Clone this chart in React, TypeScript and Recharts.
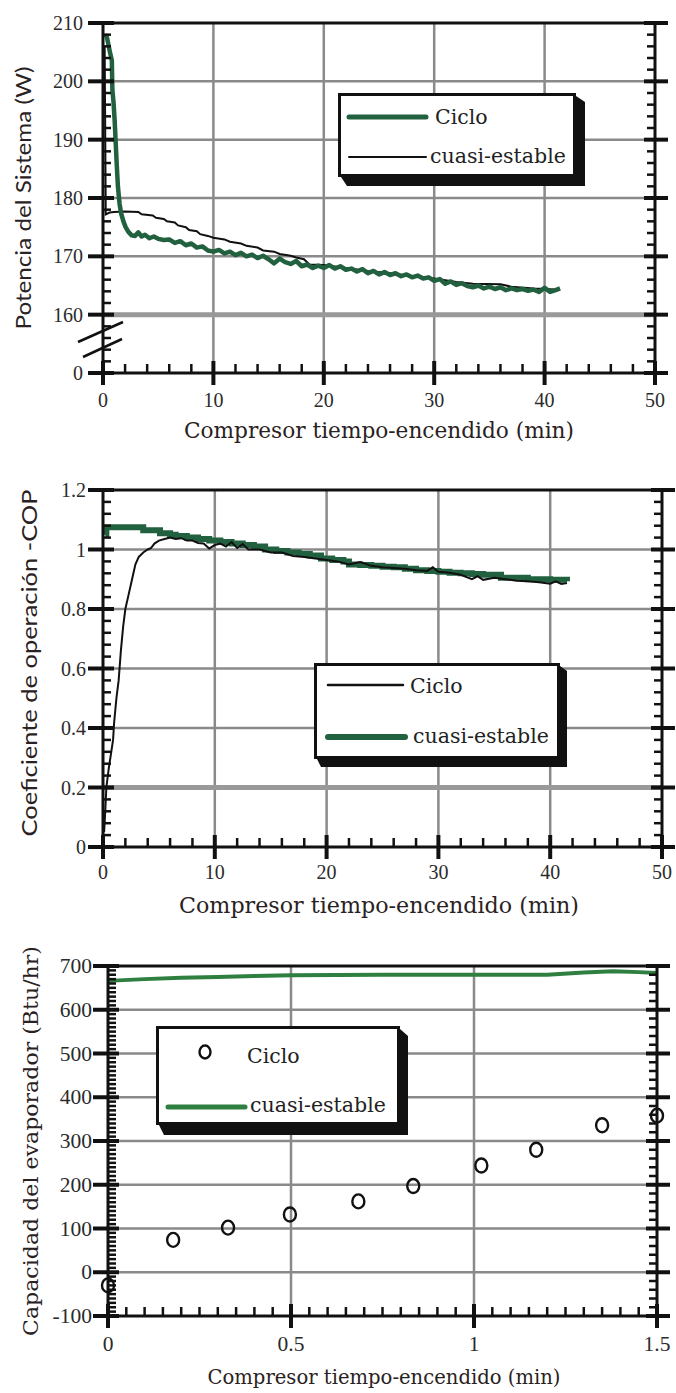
import React from 'react';
import { ComposedChart, Line, Scatter, XAxis, YAxis, ReferenceLine, Legend } from 'recharts';

// Panel 1: system power (W) vs compressor on-time (min)
const powerCiclo: [number, number][] = [
    [0.2, 208], [0.35, 207.6], [0.5, 206.2], [0.65, 204.8], [0.8, 203.6], [0.85, 198.5], [0.95, 196.5],
    [1.05, 193.5], [1.15, 189.5], [1.25, 185.5], [1.35, 182], [1.5, 179], [1.65, 177.3], [1.85, 176],
    [2.05, 175], [2.3, 174.2], [2.6, 173.6], [2.9, 173.5], [3.2, 174.1], [3.5, 173.4], [3.8, 173.7],
    [4.2, 173.1], [4.6, 173.4], [5, 173], [5.5, 172.8], [6, 172.9], [6.5, 172.3], [7, 172.6], [7.5, 171.9],
    [8, 172.2], [8.5, 171.5], [9, 171.7], [9.5, 171], [10, 170.8], [10.5, 171.1], [11, 170.5], [11.5, 170.8],
    [12, 170.2], [12.5, 170.6], [13, 170], [13.5, 170.3], [14, 169.7], [14.5, 170.1], [15, 169.5], [15.5, 168.8],
    [16, 169.6], [16.5, 169], [17, 168.7], [17.5, 169.2], [18, 168.3], [18.5, 168.6], [19, 168], [19.5, 168.4],
    [20, 168], [20.5, 168.5], [21, 167.9], [21.5, 168.3], [22, 167.7], [22.5, 167.9], [23, 167.4], [23.5, 167.8],
    [24, 167.1], [24.5, 167.5], [25, 166.9], [25.5, 167.3], [26, 166.8], [26.5, 167.1], [27, 166.6], [27.5, 166.9],
    [28, 166.4], [28.5, 166.7], [29, 166.2], [29.5, 166.4], [30, 165.8], [30.5, 166.1], [31, 165.3], [31.5, 165.7],
    [32, 165.1], [32.5, 165.4], [33, 164.9], [33.5, 164.7], [34, 165], [34.5, 164.5], [35, 164.8], [35.5, 164.4],
    [36, 164.7], [36.5, 164.2], [37, 164.5], [37.5, 164.2], [38, 164.4], [38.5, 164.1], [39, 164.3], [39.5, 163.9],
    [40, 164.6], [40.5, 163.9], [41, 164.2], [41.4, 164.5],
];
const powerCuasi: [number, number][] = [
    [0.15, 206], [0.25, 177.2], [0.6, 177.5], [1, 177.6], [2, 177.7], [3.2, 177.6], [3.5, 177.2], [4.5, 177],
    [4.8, 176.6], [5.5, 176.4], [5.8, 176], [6.5, 175.8], [6.8, 175.3], [7.5, 175], [7.8, 174.5], [8.5, 174.3],
    [8.8, 173.8], [9.5, 173.5], [10, 173.2], [11, 172.9], [11.5, 172.5], [12.5, 172.2], [13, 171.8], [14, 171.5],
    [14.5, 171], [15.5, 170.8], [16, 170.4], [17, 170.1], [17.5, 169.8], [18.2, 169.5], [18.7, 168.6], [20, 168.5],
    [22, 168], [24, 167.5], [26, 167.1], [28, 166.6], [30, 166.2], [32, 165.6], [33.5, 165.3], [36, 165.2],
    [37, 164.8], [39, 164.5], [41, 164.3],
];
const powerXTicks = [0, 10, 20, 30, 40, 50];
const powerYTicks = [150, 160, 170, 180, 190, 200, 210]; // 150 sits below the axis break, labelled "0"

// Panel 2: COP
const copCiclo: [number, number][] = [
    [0.1, 0.05], [0.2, 0.12], [0.3, 0.2], [0.5, 0.26], [0.7, 0.31], [0.9, 0.36], [1, 0.42], [1.2, 0.5],
    [1.4, 0.56], [1.6, 0.66], [1.8, 0.74], [2, 0.8], [2.3, 0.85], [2.6, 0.9], [2.9, 0.95], [3.2, 0.975],
    [3.6, 0.99], [4, 1], [4.3, 1.005], [4.6, 1.02], [5, 1.03], [5.5, 1.035], [6, 1.04], [6.5, 1.035], [7, 1.038],
    [7.5, 1.03], [8, 1.03], [8.5, 1.022], [9, 1.02], [9.5, 1.003], [10, 1.015], [10.5, 1.02], [11, 1.01],
    [11.5, 1.025], [12, 1.005], [12.5, 1.018], [13, 1], [14, 1], [15, 0.99], [16, 0.99], [17, 0.978], [18, 0.975],
    [19, 0.97], [20, 0.965], [21, 0.96], [22, 0.95], [23, 0.958], [24, 0.945], [25, 0.94], [26, 0.938],
    [27, 0.935], [28, 0.93], [29, 0.928], [29.5, 0.94], [30, 0.925], [31, 0.922], [32, 0.915], [33, 0.9],
    [33.5, 0.91], [34, 0.898], [35, 0.905], [36, 0.9], [37, 0.895], [38, 0.893], [39, 0.89], [40, 0.885],
    [40.5, 0.893], [41, 0.884], [41.5, 0.887],
];
const copCuasi: [number, number][] = [
    [0.2, 1.05], [0.3, 1.075], [3.6, 1.065], [5.1, 1.055], [6, 1.05], [6.5, 1.045], [7.5, 1.04], [8.5, 1.035],
    [9.5, 1.03], [10.5, 1.025], [11.5, 1.02], [12.5, 1.015], [13.5, 1.01], [14.5, 1], [15.5, 0.995],
    [16.5, 0.99], [17.5, 0.985], [18.5, 0.98], [19.5, 0.97], [20.5, 0.965], [21.5, 0.96], [22, 0.95],
    [23, 0.948], [24, 0.945], [25, 0.942], [26, 0.94], [27, 0.935], [28, 0.93], [29, 0.928], [30, 0.925],
    [31, 0.922], [32, 0.92], [33, 0.918], [34, 0.915], [35.6, 0.905], [38, 0.9], [40, 0.898], [41.5, 0.893],
];
const copXTicks = [0, 10, 20, 30, 40, 50];
const copYTicks = [0, 0.2, 0.4, 0.6, 0.8, 1, 1.2];

// Panel 3: evaporator capacity (Btu/hr)
const capCiclo: [number, number][] = [
    [0, -30], [0.178, 74], [0.328, 102], [0.497, 132], [0.684, 162], [0.834, 197], [1.02, 244], [1.17, 280],
    [1.35, 336], [1.5, 358],
];
const capCuasi: [number, number][] = [
    [0, 666], [0.1, 670], [0.2, 673], [0.3, 675], [0.4, 677], [0.5, 679], [0.75, 680], [1, 680], [1.2, 680],
    [1.3, 685], [1.38, 688], [1.45, 686], [1.5, 684],
];
const capXTicks = [0, 0.5, 1, 1.5];
const capYTicks = [-100, 0, 100, 200, 300, 400, 500, 600, 700];

const INK = '#111';
const GRID = '#8a8a8a';
const GREEN = '#22613f';
const GREEN3 = '#2e7f40';
const TICK_FONT = 'Liberation Serif';

const rows = (pairs: [number, number][]) => pairs.map(([x, y]) => ({ x, y }));
const near = (v: number, list: number[]) => list.some(m => Math.abs(m - v) < 1e-6);
const steps = (a: number, b: number, s: number) => {
    const out: number[] = [];
    for (let i = 0; a + i * s <= b + 1e-9; i++) out.push(Math.round((a + i * s) * 1000) / 1000);
    return out;
};
const inner = (ticks: number[]) => ticks.slice(1, -1);

type Side = 'bottom' | 'top' | 'left' | 'right';

// tick mark that crosses the frame for majors, short inward stub for minors
const tickFor = (side: Side, majors: number[], fmt?: (v: number) => string, gap = 0, fontSize = 18, extra?: (v: number, x: number, y: number) => React.ReactNode) =>
    (p: any) => {
        const { x, y, payload } = p;
        const v = payload.value;
        const major = near(v, majors);
        let l: number[];
        if (side === 'bottom') l = major ? [x, y - 12, x, y + 12] : [x, y - 9, x, y];
        else if (side === 'top') l = major ? [x, y - 12, x, y + 12] : [x, y, x, y + 9];
        else if (side === 'left') l = major ? [x - 15, y, x + 11, y] : [x, y, x + 8, y];
        else l = major ? [x - 11, y, x + 13, y] : [x - 8, y, x, y];
        return (
            <g>
                <line x1={l[0]} y1={l[1]} x2={l[2]} y2={l[3]} stroke={INK} strokeWidth={major ? 4 : 2.5} />
                {fmt && major && side === 'bottom' && (
                    <text x={x} y={y + gap} textAnchor="middle" fontFamily={TICK_FONT} fontSize={fontSize} fill="#2b2b2b">{fmt(v)}</text>
                )}
                {fmt && major && side === 'left' && (
                    <text x={x - gap} y={y + 7} textAnchor="end" fontFamily={TICK_FONT} fontSize={fontSize} fill="#2b2b2b">{fmt(v)}</text>
                )}
                {extra && extra(v, x, y)}
            </g>
        );
    };

interface FrameCfg {
    xDomain: [number, number];
    xMajor: number[];
    xBottom: number[];
    xTop: number[];
    xFmt: (v: number) => string;
    xGap: number;
    yDomain: [number, number];
    yMajor: number[];
    yLeft: number[];
    yRight: number[];
    yFmt: (v: number) => string;
    yGap: number;
    fontSize: number;
    yExtra?: (v: number, x: number, y: number) => React.ReactNode;
}

const frameLine = { stroke: INK, strokeWidth: 3 };

// one 1px axis per side: all ticks (major + minor) are drawn by tickFor
const frameAxes = (c: FrameCfg) => [
    <XAxis key="xb" xAxisId={0} dataKey="x" type="number" domain={c.xDomain} ticks={c.xBottom} interval={0} height={1}
        tickSize={0} tickMargin={0} tickLine={false} axisLine={frameLine}
        tick={tickFor('bottom', c.xMajor, c.xFmt, c.xGap, c.fontSize)} />,
    <XAxis key="xt" xAxisId="xt" orientation="top" type="number" domain={c.xDomain} ticks={c.xTop} interval={0} height={1}
        tickSize={0} tickMargin={0} tickLine={false} axisLine={frameLine} allowDataOverflow
        tick={tickFor('top', c.xMajor)} />,
    <YAxis key="yl" yAxisId={0} dataKey="y" type="number" domain={c.yDomain} ticks={c.yLeft} interval={0} width={1}
        tickSize={0} tickMargin={0} tickLine={false} axisLine={frameLine}
        tick={tickFor('left', c.yMajor, c.yFmt, c.yGap, c.fontSize, c.yExtra)} />,
    <YAxis key="yr" yAxisId="yr" orientation="right" type="number" domain={c.yDomain} ticks={c.yRight} interval={0} width={1}
        tickSize={0} tickMargin={0} tickLine={false} axisLine={frameLine} allowDataOverflow
        tick={tickFor('right', c.yMajor)} />,
];

const gridLines = (c: FrameCfg) => [
    ...inner(c.xMajor).map(v => <ReferenceLine key={`gx${v}`} x={v} stroke={GRID} strokeWidth={2.5} />),
    ...inner(c.yMajor).map(v => <ReferenceLine key={`gy${v}`} y={v} stroke={GRID} strokeWidth={2.5} />),
];

interface LegendRow {
    label: string;
    mark: 'line' | 'ring';
    color: string;
    width: number;
    x1: number;
    x2: number;
    y: number;
    tx: number;
    ty: number;
}

const LegendCard = ({ w, h, sx, sy, items }: { w: number; h: number; sx: number; sy: number; items: LegendRow[] }) => (
    <svg width={w + sx + 2} height={h + sy + 2} style={{ display: 'block', overflow: 'visible' }}>
        <polygon points={`${w},3 ${w + sx},${sy} ${w + sx},${h + sy} ${sx},${h + sy} 3,${h}`} fill={INK} />
        <rect x={1.5} y={1.5} width={w - 3} height={h - 3} fill="#fff" stroke={INK} strokeWidth={3} />
        {items.map(it => (
            <g key={it.label}>
                {it.mark === 'line'
                    ? <line x1={it.x1} y1={it.y} x2={it.x2} y2={it.y} stroke={it.color} strokeWidth={it.width} strokeLinecap="round" />
                    : <ellipse cx={it.x1} cy={it.y} rx={5.5} ry={6.5} fill="none" stroke={it.color} strokeWidth={it.width} />}
                <text x={it.tx} y={it.ty} fontFamily="DejaVu Serif" fontSize={20.5} fill="#222">{it.label}</text>
            </g>
        ))}
    </svg>
);

const Ring = (p: any) => <ellipse cx={p.cx} cy={p.cy} rx={6} ry={7} fill="none" stroke={INK} strokeWidth={2.4} />;

const titleStyle = { fill: '#2a2222' };

const App = () => {
    const powerCfg: FrameCfg = {
        xDomain: [0, 50], xMajor: powerXTicks, xBottom: steps(0, 50, 2), xTop: steps(0, 50, 2),
        xFmt: v => String(v), xGap: 34,
        yDomain: [150, 210], yMajor: powerYTicks, yLeft: steps(150, 210, 2), yRight: steps(150, 210, 2),
        yFmt: v => (v === 150 ? '0' : String(v)), yGap: 20, fontSize: 20,
        yExtra: (v, x, y) => v === 150 ? (
            <g>
                <line x1={x - 25} y1={y - 31} x2={x + 20} y2={y - 51} stroke={INK} strokeWidth={2.5} />
                <line x1={x - 20} y1={y - 16} x2={x + 19} y2={y - 34} stroke={INK} strokeWidth={2.5} />
            </g>
        ) : null,
    };
    const copCfg: FrameCfg = {
        xDomain: [0, 50], xMajor: copXTicks, xBottom: steps(0, 50, 2), xTop: steps(0, 50, 2),
        xFmt: v => String(v), xGap: 32,
        yDomain: [0, 1.2], yMajor: copYTicks, yLeft: steps(0, 1.2, 0.04), yRight: steps(0, 1.2, 0.04),
        yFmt: v => (v === 0 || v === 1 ? String(v) : v.toFixed(1)), yGap: 17, fontSize: 20,
    };
    const capCfg: FrameCfg = {
        xDomain: [0, 1.5], xMajor: capXTicks, xBottom: steps(0, 1.5, 0.05), xTop: steps(0, 1.5, 0.05),
        xFmt: v => String(v), xGap: 35,
        yDomain: [-100, 700], yMajor: capYTicks, yLeft: steps(-100, 700, 10), yRight: steps(-100, 700, 20),
        yFmt: v => String(v), yGap: 16, fontSize: 21.5,
    };

    return (
        <div style={{ position: 'absolute', left: 0, top: 0, width: 676, height: 1393, background: '#fff' }}>
            {/* Potencia del sistema */}
            <div style={{ position: 'absolute', left: 0, top: 0 }}>
                <ComposedChart width={676} height={460} margin={{ top: 22, right: 20, bottom: 86, left: 102 }}>
                    {gridLines(powerCfg)}
                    <ReferenceLine y={160} stroke="#999" strokeWidth={5} />
                    <Line data={rows(powerCuasi)} dataKey="y" name="cuasi-estable" stroke={INK} strokeWidth={2} dot={false} isAnimationActive={false} />
                    <Line data={rows(powerCiclo)} dataKey="y" name="Ciclo" stroke={GREEN} strokeWidth={4.5} dot={false} strokeLinejoin="round" isAnimationActive={false} />
                    {frameAxes(powerCfg)}
                    <Legend verticalAlign="middle" align="center" wrapperStyle={{ left: 338, top: 93, width: 250, height: 96 }}
                        content={() => (
                            <LegendCard w={238} h={84} sx={9} sy={9} items={[
                                { label: 'Ciclo', mark: 'line', color: GREEN, width: 5, x1: 11, x2: 88, y: 24, tx: 97, ty: 31 },
                                { label: 'cuasi-estable', mark: 'line', color: INK, width: 2, x1: 11, x2: 88, y: 64, tx: 92, ty: 70 },
                            ]} />
                        )} />
                </ComposedChart>
            </div>

            {/* Coeficiente de operacion */}
            <div style={{ position: 'absolute', left: 0, top: 460 }}>
                <ComposedChart width={676} height={460} margin={{ top: 29, right: 13, bottom: 72, left: 102 }}>
                    {gridLines(copCfg)}
                    <ReferenceLine y={0.2} stroke="#999" strokeWidth={5} />
                    <Line data={rows(copCuasi)} dataKey="y" name="cuasi-estable" type="stepAfter" stroke={GREEN} strokeWidth={6} dot={false} isAnimationActive={false} />
                    <Line data={rows(copCiclo)} dataKey="y" name="Ciclo" stroke={INK} strokeWidth={2} dot={false} isAnimationActive={false} />
                    {frameAxes(copCfg)}
                    <Legend verticalAlign="middle" align="center" wrapperStyle={{ left: 314, top: 203, width: 258, height: 108 }}
                        content={() => (
                            <LegendCard w={246} h={96} sx={7} sy={8} items={[
                                { label: 'Ciclo', mark: 'line', color: INK, width: 2.5, x1: 14, x2: 89, y: 22, tx: 96, ty: 30 },
                                { label: 'cuasi-estable', mark: 'line', color: GREEN, width: 6, x1: 14, x2: 91, y: 74, tx: 99, ty: 80 },
                            ]} />
                        )} />
                </ComposedChart>
            </div>

            {/* Capacidad del evaporador */}
            <div style={{ position: 'absolute', left: 0, top: 920 }}>
                <ComposedChart width={676} height={473} margin={{ top: 45, right: 18, bottom: 76, left: 107 }}>
                    {gridLines(capCfg)}
                    <Line data={rows(capCuasi)} dataKey="y" name="cuasi-estable" stroke={GREEN3} strokeWidth={4} dot={false} isAnimationActive={false} />
                    <Scatter data={rows(capCiclo)} dataKey="y" name="Ciclo" shape={Ring} isAnimationActive={false} />
                    {frameAxes(capCfg)}
                    <Legend verticalAlign="middle" align="center" wrapperStyle={{ left: 156, top: 106, width: 256, height: 112 }}
                        content={() => (
                            <LegendCard w={244} h={99} sx={8} sy={10} items={[
                                { label: 'Ciclo', mark: 'ring', color: INK, width: 2.4, x1: 49, x2: 49, y: 26, tx: 91, ty: 37 },
                                { label: 'cuasi-estable', mark: 'line', color: GREEN3, width: 5, x1: 12, x2: 89, y: 81, tx: 94, ty: 86 },
                            ]} />
                        )} />
                </ComposedChart>
            </div>

            {/* axis titles */}
            <svg width={676} height={1393} style={{ position: 'absolute', left: 0, top: 0, pointerEvents: 'none' }}>
                <text transform="translate(31,198) rotate(-90)" textAnchor="middle" fontFamily="Lato" fontSize={22}
                    textLength={263} lengthAdjust="spacingAndGlyphs" style={titleStyle}>Potencia del Sistema (W)</text>
                <text x={379} y={438} textAnchor="middle" fontFamily="DejaVu Serif" fontSize={21.5}
                    textLength={390} lengthAdjust="spacingAndGlyphs" style={titleStyle}>Compresor tiempo-encendido (min)</text>

                <text transform="translate(37,663) rotate(-90)" textAnchor="middle" fontFamily="Lato" fontSize={22}
                    textLength={347} lengthAdjust="spacingAndGlyphs" style={titleStyle}>Coeficiente de operación -COP</text>
                <text x={379} y={913} textAnchor="middle" fontFamily="DejaVu Serif" fontSize={22}
                    textLength={400} lengthAdjust="spacingAndGlyphs" style={titleStyle}>Compresor tiempo-encendido (min)</text>

                <text transform="translate(38,1141) rotate(-90)" textAnchor="middle" fontFamily="DejaVu Serif" fontSize={21}
                    textLength={390} lengthAdjust="spacingAndGlyphs" style={titleStyle}>Capacidad del evaporador (Btu/hr)</text>
                <text x={384} y={1384} textAnchor="middle" fontFamily="DejaVu Serif" fontSize={19.5}
                    textLength={353} lengthAdjust="spacingAndGlyphs" style={titleStyle}>Compresor tiempo-encendido (min)</text>
            </svg>
        </div>
    );
};

export default App;
